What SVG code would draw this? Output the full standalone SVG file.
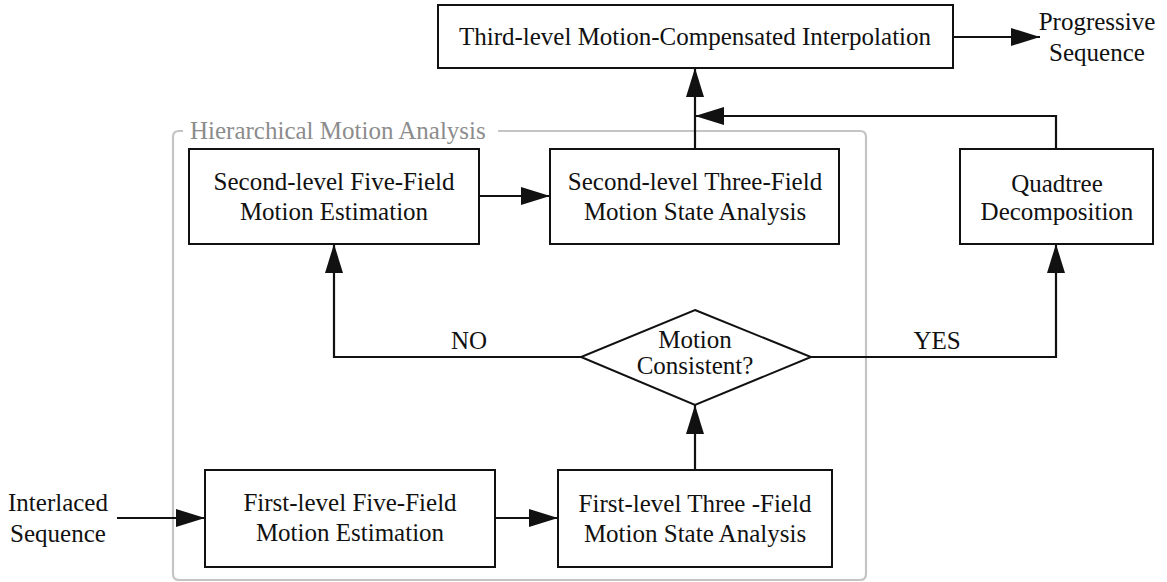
<svg xmlns="http://www.w3.org/2000/svg" width="1167" height="582" viewBox="0 0 1167 582" font-family="Liberation Serif">
  <style>
    text { font-family: "Liberation Serif", "Times New Roman", serif; font-size: 25px; fill: #111; text-anchor: middle; }
    .box { fill: #fff; stroke: #111; stroke-width: 2; }
    .wire { fill: none; stroke: #111; stroke-width: 2.2; }
    .group { fill: none; stroke: #c4c4c4; stroke-width: 2.2; }
    .group-label { fill: #8c8c8c; text-anchor: start; }
  </style>
  <defs>
    <marker id="arrow" markerUnits="userSpaceOnUse" markerWidth="29" markerHeight="18" refX="29" refY="9" orient="auto">
      <path d="M0,0 L29,9 L0,18 Z" fill="#111"/>
    </marker>
  </defs>
  <rect width="1167" height="582" fill="#fff"/>

  <!-- Hierarchical motion analysis group frame -->
  <g id="hierarchical-group">
    <path class="group" d="M183,131 L179,131 Q173,131 173,137 L173,574 Q173,580 179,580 L860,580 Q866,580 866,574 L866,137 Q866,131 860,131 L498,131"/>
    <text class="group-label" x="190" y="139">Hierarchical Motion Analysis</text>
  </g>

  <!-- Connectors -->
  <g id="connectors">
    <line class="wire" x1="953" y1="37" x2="1040" y2="37" marker-end="url(#arrow)"/>
    <line class="wire" x1="695" y1="149" x2="695" y2="68" marker-end="url(#arrow)"/>
    <polyline class="wire" points="1056,149 1056,116 695,116" marker-end="url(#arrow)"/>
    <line class="wire" x1="479" y1="196" x2="550" y2="196" marker-end="url(#arrow)"/>
    <polyline class="wire" points="581,357 334,357 334,244" marker-end="url(#arrow)"/>
    <polyline class="wire" points="811,357 1056,357 1056,244" marker-end="url(#arrow)"/>
    <line class="wire" x1="695" y1="470" x2="695" y2="405" marker-end="url(#arrow)"/>
    <line class="wire" x1="117" y1="518" x2="205" y2="518" marker-end="url(#arrow)"/>
    <line class="wire" x1="495" y1="518" x2="558" y2="518" marker-end="url(#arrow)"/>
    <text x="469" y="349">NO</text>
    <text x="937" y="349">YES</text>
  </g>

  <g id="third-level-interpolation">
    <rect class="box" x="438" y="5" width="515" height="63"/>
    <text x="695" y="45">Third-level Motion-Compensated Interpolation</text>
  </g>

  <g id="progressive-sequence">
    <text x="1097" y="30">Progressive</text>
    <text x="1097" y="61">Sequence</text>
  </g>

  <g id="second-level-five-field">
    <rect class="box" x="189" y="149" width="290" height="95"/>
    <text x="334" y="190">Second-level Five-Field</text>
    <text x="334" y="220">Motion Estimation</text>
  </g>

  <g id="second-level-three-field">
    <rect class="box" x="550" y="149" width="289" height="95"/>
    <text x="695" y="190">Second-level Three-Field</text>
    <text x="695" y="220">Motion State Analysis</text>
  </g>

  <g id="quadtree-decomposition">
    <rect class="box" x="960" y="149" width="193" height="95"/>
    <text x="1057" y="192">Quadtree</text>
    <text x="1057" y="220">Decomposition</text>
  </g>

  <g id="motion-consistent">
    <polygon class="box" points="695,310 811,357 695,405 581,357"/>
    <text x="695" y="348">Motion</text>
    <text x="695" y="374">Consistent?</text>
  </g>

  <g id="interlaced-sequence">
    <text x="58" y="511">Interlaced</text>
    <text x="58" y="542">Sequence</text>
  </g>

  <g id="first-level-five-field">
    <rect class="box" x="205" y="470" width="290" height="97"/>
    <text x="350" y="511">First-level Five-Field</text>
    <text x="350" y="541">Motion Estimation</text>
  </g>

  <g id="first-level-three-field">
    <rect class="box" x="558" y="470" width="274" height="97"/>
    <text x="695" y="512">First-level Three -Field</text>
    <text x="695" y="542">Motion State Analysis</text>
  </g>
</svg>
